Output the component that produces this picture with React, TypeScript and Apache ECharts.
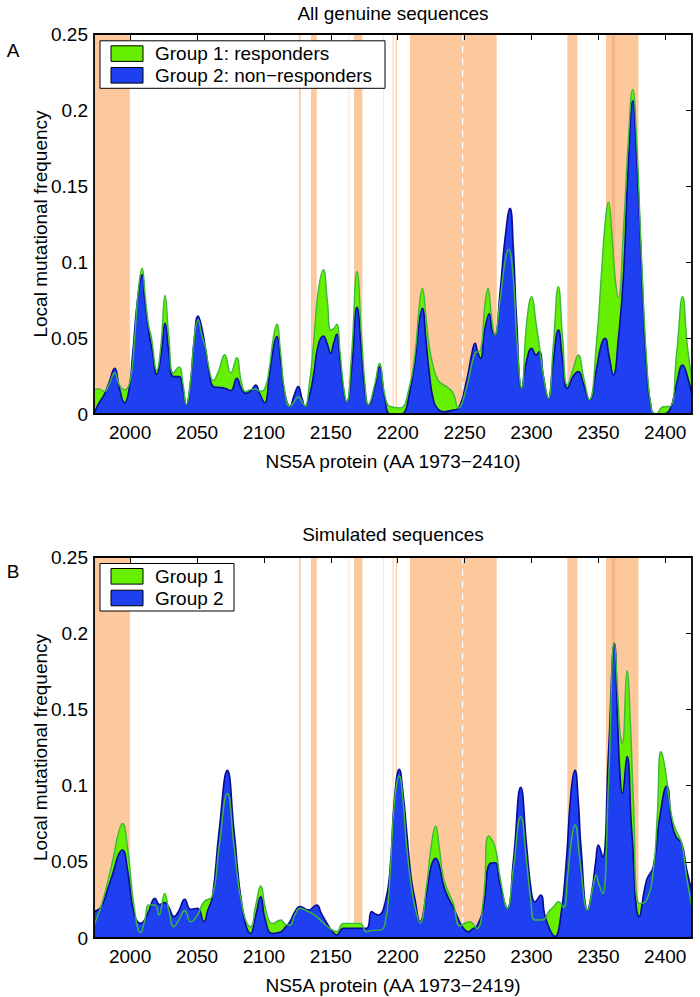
import React, { useEffect, useRef } from "react";
import * as echarts from "echarts";

const X_MIN = 1973;
const X_MAX = 2420;
const Y_MAX = 0.25;
const X_TICKS = [2000, 2050, 2100, 2150, 2200, 2250, 2300, 2350, 2400];

const TITLE_A = "All genuine sequences";
const TITLE_B = "Simulated sequences";
const XNAME_A = "NS5A protein (AA 1973\u22122410)";
const XNAME_B = "NS5A protein (AA 1973\u22122419)";
const YNAME = "Local mutational frequency";
const LEGEND_A = ["Group 1: responders", "Group 2: non\u2212responders"];
const LEGEND_B = ["Group 1", "Group 2"];

// shaded regions [start AA, end AA]
const BANDS: [number, number][] = [
  [1973, 1999.8], [2126.2, 2127.4], [2135.2, 2139.5], [2167.4, 2173.6],
  [2196.2, 2196.9], [2198.6, 2199.5], [2209.2, 2274.0], [2326.8, 2334.3], [2355.7, 2380.0],
];
const FAINT_BANDS: [number, number][] = [[2163.2, 2163.9], [2189.0, 2189.7]];
const DARK_BANDS: [number, number][] = [[2360.0, 2362.5]];
const DASH_AT = [2248.5];

// Panel A: all genuine sequences
const A_GROUP1: [number, number][] = [
  [1973,0.016],[1977,0.0165],[1980.5,0.0147],[1984,0.019],[1988.5,0.027],[1992,0.019],[1996,0.016],[2000,0.022],
  [2003,0.045],[2006,0.08],[2009,0.096],[2011,0.08],[2013.5,0.06],[2016,0.05],[2019.9,0.029],[2023,0.045],
  [2026.1,0.078],[2029,0.05],[2032.3,0.027],[2036.5,0.031],[2039.5,0.02],[2042,0.006],[2045,0.02],[2048,0.05],
  [2050.8,0.062],[2053.5,0.052],[2056.5,0.043],[2059,0.03],[2062.2,0.022],[2066,0.028],[2070.7,0.039],[2075.2,0.027],
  [2079.7,0.037],[2083,0.022],[2086.4,0.0147],[2090,0.016],[2093.9,0.0165],[2097,0.015],[2100.6,0.0165],[2104,0.03],
  [2107,0.05],[2109.6,0.059],[2112.5,0.04],[2115.5,0.015],[2119.5,0.005],[2122.5,0.008],[2125.7,0.0114],[2128.5,0.008],
  [2130.7,0.005],[2134,0.02],[2137,0.045],[2140.5,0.08],[2144.4,0.095],[2147.4,0.075],[2149.9,0.0553],[2152,0.056],
  [2154.4,0.059],[2157,0.04],[2159.5,0.018],[2161.9,0.008],[2165.6,0.04],[2169.6,0.0936],[2173.1,0.05],[2175.5,0.02],
  [2178.1,0.006],[2183,0.02],[2186.3,0.0333],[2190.5,0.012],[2194.3,0.005],[2201.7,0.004],[2208,0.015],[2213,0.04],
  [2216,0.07],[2218.4,0.0827],[2221,0.065],[2223.5,0.045],[2226.7,0.031],[2230.4,0.022],[2234.6,0.019],[2238,0.017],
  [2241.6,0.0136],[2245.3,0.004],[2251.6,0.018],[2257.8,0.04],[2262,0.042],[2265,0.07],[2267.5,0.0827],[2270,0.065],
  [2272.7,0.052],[2276.5,0.075],[2280.2,0.1],[2282.7,0.1083],[2286.4,0.09],[2289,0.05],[2292.7,0.017],[2296.4,0.06],
  [2300.2,0.0772],[2303.4,0.06],[2305.9,0.045],[2308.9,0.025],[2312.6,0.0103],[2316.3,0.045],[2320.1,0.0838],[2323.3,0.05],
  [2326.8,0.019],[2331.3,0.03],[2335,0.0388],[2338.8,0.025],[2343.3,0.0092],[2348.7,0.048],[2352.5,0.095],[2355,0.125],
  [2357.5,0.1393],[2360,0.12],[2362.5,0.09],[2365,0.0761],[2368.7,0.12],[2372.4,0.18],[2375.7,0.2136],[2378.6,0.18],
  [2382.4,0.1],[2386.1,0.035],[2389.9,0.002],[2393,0.0],[2398.6,0.0048],[2403.6,0.005],[2408.5,0.04],[2413,0.0772],
  [2416.5,0.045],[2420,0.0224],
];
const A_GROUP2: [number, number][] = [
  [1973,0.0],[1976,0.006],[1980.5,0.0125],[1984,0.02],[1988.5,0.03],[1992,0.017],[1995.9,0.0074],[1999,0.015],
  [2002,0.04],[2005.5,0.075],[2009.1,0.0915],[2011,0.075],[2014,0.054],[2016.5,0.042],[2019.9,0.026],[2023,0.038],
  [2026.1,0.0597],[2029,0.04],[2032.3,0.0246],[2036.5,0.0246],[2039.5,0.016],[2042,0.006],[2045,0.02],[2048,0.05],
  [2050.8,0.0645],[2053.5,0.057],[2056.5,0.042],[2059,0.028],[2062.2,0.018],[2066,0.0175],[2070.7,0.017],[2075.2,0.0154],
  [2079.7,0.0235],[2083,0.017],[2086.4,0.0136],[2090,0.015],[2093.9,0.019],[2097,0.013],[2100.6,0.0074],[2104,0.025],
  [2107,0.043],[2109.6,0.051],[2112.5,0.035],[2115.5,0.014],[2119.5,0.005],[2122.5,0.012],[2125.7,0.018],[2128.5,0.01],
  [2130.7,0.005],[2134,0.012],[2137,0.025],[2140.5,0.045],[2144.4,0.0513],[2147.4,0.046],[2149.9,0.0399],[2152,0.046],
  [2154.4,0.0524],[2157,0.035],[2159.5,0.016],[2161.9,0.008],[2165.6,0.03],[2169.6,0.0702],[2173.1,0.04],[2175.5,0.016],
  [2178.1,0.006],[2183,0.018],[2186.3,0.0311],[2190.5,0.01],[2194.3,0.0],[2201.7,0.0],[2205,0.001],[2208,0.01],
  [2213,0.035],[2216,0.06],[2218.4,0.0695],[2221,0.05],[2223.5,0.028],[2226.7,0.0092],[2230.4,0.003],[2234.6,0.0015],
  [2241.6,0.0026],[2245.3,0.0037],[2251.6,0.0224],[2255.5,0.04],[2257.8,0.0465],[2260,0.04],[2262,0.0366],[2265,0.055],
  [2268.5,0.066],[2270.5,0.055],[2272.7,0.052],[2276.5,0.08],[2280.2,0.115],[2284,0.1353],[2286.4,0.11],[2289,0.06],
  [2292.7,0.017],[2296.4,0.035],[2300.2,0.0432],[2303.4,0.0388],[2305.9,0.041],[2308.9,0.025],[2312.6,0.0103],[2316.3,0.035],
  [2320.1,0.0553],[2323.3,0.035],[2326.8,0.0169],[2331.3,0.025],[2335,0.0279],[2338.8,0.02],[2343.3,0.0092],[2348.7,0.03],
  [2352,0.045],[2355,0.0498],[2358,0.038],[2361.2,0.0257],[2365,0.05],[2368.7,0.09],[2372.4,0.165],[2375.7,0.2061],
  [2378.6,0.17],[2382.4,0.095],[2386.1,0.03],[2389.9,0.002],[2393,0.0],[2398.6,0.0],[2403.6,0.003],[2408.5,0.02],
  [2413,0.0322],[2416.5,0.025],[2420,0.0125],
];

// Panel B: simulated sequences
const B_GROUP1: [number, number][] = [
  [1973,0.0085],[1978,0.02],[1983,0.036],[1988,0.055],[1991,0.068],[1994.2,0.0752],[1998,0.06],[2003,0.0206],
  [2007.9,0.0035],[2011,0.012],[2014.1,0.0217],[2018.6,0.0217],[2021.5,0.015],[2025.8,0.0293],[2029,0.018],[2032.8,0.0074],
  [2036.5,0.012],[2040.8,0.018],[2045.3,0.0107],[2050.3,0.015],[2055.2,0.0238],[2061.5,0.0276],[2066.5,0.06],[2072.7,0.0949],
  [2077.7,0.06],[2083.9,0.02],[2090.1,0.0074],[2094,0.022],[2097.6,0.0341],[2101,0.02],[2104,0.011],[2106.3,0.0096],
  [2112.6,0.0118],[2116,0.009],[2119.5,0.0085],[2123,0.015],[2127,0.0195],[2133.2,0.0173],[2139.4,0.014],[2146.9,0.008],
  [2154.4,0.0042],[2159.4,0.0096],[2171.8,0.0096],[2176.8,0.004],[2181,0.005],[2185.5,0.005],[2190.5,0.009],[2194.3,0.042],
  [2197.5,0.088],[2201.2,0.1063],[2204,0.09],[2206.7,0.06],[2210,0.035],[2213,0.02],[2216.7,0.01],[2221.7,0.035],
  [2225,0.06],[2228.4,0.0735],[2231,0.06],[2234.1,0.04],[2238,0.03],[2241.6,0.0227],[2246.6,0.008],[2251,0.01],
  [2254,0.0107],[2259,0.0063],[2264,0.025],[2268,0.067],[2272.7,0.06],[2276.5,0.04],[2282,0.0195],[2286.4,0.045],
  [2292,0.0796],[2296.4,0.05],[2299.5,0.025],[2302.6,0.0118],[2308.9,0.012],[2312.6,0.017],[2317,0.021],[2320.1,0.0238],
  [2324,0.02],[2327,0.04],[2330,0.065],[2332.5,0.0741],[2336.3,0.05],[2342,0.0184],[2346.3,0.035],[2348.2,0.0413],
  [2350.5,0.035],[2353.2,0.029],[2357.5,0.1],[2362,0.1938],[2364.5,0.16],[2366.2,0.135],[2367.9,0.1277],[2371.4,0.1754],
  [2374,0.14],[2376.2,0.09],[2380.6,0.0227],[2386.1,0.025],[2391.1,0.0446],[2394,0.08],[2396.6,0.1222],[2398.5,0.118],
  [2401.1,0.1037],[2404.8,0.08],[2408,0.0709],[2412.3,0.0621],[2416,0.04],[2420,0.0195],
];
const B_GROUP2: [number, number][] = [
  [1973,0.0173],[1978,0.02],[1983,0.0315],[1988,0.045],[1991,0.054],[1994.2,0.0577],[1998,0.045],[2003,0.016],
  [2007.9,0.0096],[2011,0.012],[2014.1,0.018],[2018.6,0.026],[2022,0.022],[2025.8,0.0232],[2029,0.02],[2032.8,0.014],
  [2036.5,0.018],[2040.8,0.0254],[2045.3,0.0188],[2050.3,0.0195],[2055.2,0.0107],[2058,0.018],[2061.5,0.027],[2066.5,0.07],
  [2072.7,0.11],[2077.7,0.07],[2083.9,0.02],[2090.1,0.003],[2094,0.015],[2097.6,0.027],[2101,0.012],[2106.3,0.003],
  [2112.6,0.004],[2116,0.007],[2119.5,0.0107],[2123,0.017],[2127,0.0206],[2133.2,0.0184],[2139.4,0.0217],[2143,0.016],
  [2146.9,0.01],[2150.5,0.005],[2154.4,0.002],[2159.4,0.0063],[2171.8,0.0063],[2176.8,0.0063],[2180.5,0.0173],[2183,0.016],
  [2185.5,0.0151],[2190.5,0.0227],[2194.3,0.045],[2197.5,0.09],[2201.2,0.1107],[2204,0.095],[2206.7,0.07],[2210,0.04],
  [2213,0.025],[2216.7,0.0107],[2221.7,0.03],[2225,0.047],[2228.4,0.0523],[2231,0.048],[2234.1,0.035],[2238,0.026],
  [2241.6,0.02],[2246.6,0.01],[2249.5,0.006],[2252.8,0.004],[2256,0.006],[2259,0.0074],[2264,0.02],[2269,0.049],
  [2272.7,0.0494],[2276.5,0.035],[2282,0.0195],[2286.4,0.05],[2292,0.0989],[2296.4,0.06],[2300,0.03],[2302.6,0.0238],
  [2306.9,0.0282],[2310,0.015],[2314,0.005],[2317.6,0.001],[2322,0.015],[2326,0.05],[2329.5,0.095],[2332.5,0.11],
  [2335,0.09],[2337,0.06],[2342,0.0184],[2345,0.03],[2348,0.05],[2350,0.061],[2353.2,0.053],[2357.5,0.12],
  [2362,0.1933],[2364.5,0.14],[2366,0.11],[2367.9,0.0949],[2371.4,0.119],[2375,0.07],[2380.6,0.014],[2386.1,0.038],
  [2391.1,0.0468],[2396,0.08],[2401.1,0.0997],[2405,0.075],[2408,0.0665],[2412.3,0.0621],[2416,0.045],[2420,0.0304],
];

const FONT = "'Liberation Sans', Arial, Helvetica, sans-serif";
const GREEN_FILL = "#66f000";
const GREEN_LINE = "#3cb83c";
const BLUE_FILL = "#1f40f0";
const BLUE_LINE = "#0a0a96";
const BAND = "#fcc89c";
const BAND_FAINT = "#fde2cb";
const BAND_DARK = "#f6b682";

function bandSeries(gi: number, bands: [number, number][], color: string) {
  return {
    type: "custom",
    xAxisIndex: gi * 2,
    yAxisIndex: gi * 2,
    z: 1,
    silent: true,
    clip: true,
    encode: { x: [0, 1] },
    data: bands,
    renderItem: (_p: any, api: any) => {
      const a = api.coord([api.value(0), Y_MAX]);
      const b = api.coord([api.value(1), 0]);
      return {
        type: "rect",
        shape: { x: a[0], y: a[1], width: Math.max(b[0] - a[0], 0.8), height: b[1] - a[1] },
        style: { fill: color },
      };
    },
  };
}

function dashSeries(gi: number) {
  return {
    type: "custom",
    xAxisIndex: gi * 2,
    yAxisIndex: gi * 2,
    z: 1,
    silent: true,
    encode: { x: 0 },
    data: DASH_AT.map((v) => [v]),
    renderItem: (_p: any, api: any) => {
      const a = api.coord([api.value(0), Y_MAX]);
      const b = api.coord([api.value(0), 0]);
      return {
        type: "line",
        shape: { x1: a[0], y1: a[1], x2: b[0], y2: b[1] },
        style: { stroke: "#ffffff", lineWidth: 1.2, lineDash: [7, 5] },
      };
    },
  };
}

function dataSeries(gi: number, names: string[], g1: [number, number][], g2: [number, number][]) {
  return [
    {
      name: names[0],
      type: "line",
      xAxisIndex: gi * 2,
      yAxisIndex: gi * 2,
      z: 2,
      data: g1,
      smooth: 0.5,
      showSymbol: false,
      symbol: "none",
      lineStyle: { width: 0 },
      areaStyle: { color: GREEN_FILL, opacity: 1 },
    },
    {
      name: names[1],
      type: "line",
      xAxisIndex: gi * 2,
      yAxisIndex: gi * 2,
      z: 3,
      data: g2,
      smooth: 0.5,
      showSymbol: false,
      symbol: "none",
      lineStyle: { width: 1.6, color: BLUE_LINE },
      areaStyle: { color: BLUE_FILL, opacity: 1 },
    },
    {
      name: names[0] + " ",
      type: "line",
      xAxisIndex: gi * 2,
      yAxisIndex: gi * 2,
      z: 4,
      data: g1,
      smooth: 0.5,
      showSymbol: false,
      symbol: "none",
      lineStyle: { width: 1.4, color: GREEN_LINE },
    },
  ];
}

function xAxes(gi: number, name: string) {
  const line = { show: true, onZero: false, lineStyle: { color: "#000", width: 1.8 } };
  return [
    {
      type: "value",
      gridIndex: gi,
      position: "bottom",
      min: X_MIN,
      max: X_MAX,
      z: 10,
      axisLine: line,
      axisTick: { show: false },
      splitLine: { show: false },
      axisLabel: {
        customValues: X_TICKS,
        formatter: (v: number) => String(v),
        color: "#000",
        fontSize: 19,
        fontFamily: FONT,
        margin: 9,
      },
      name,
      nameLocation: "middle",
      nameGap: 38,
      nameMoveOverlap: false,
      nameTextStyle: { color: "#000", fontSize: 19, fontFamily: FONT },
    },
    {
      type: "value",
      gridIndex: gi,
      position: "top",
      min: X_MIN,
      max: X_MAX,
      z: 10,
      axisLine: line,
      axisTick: { show: true, inside: true, length: 6, customValues: X_TICKS, lineStyle: { color: "#000", width: 1 } },
      splitLine: { show: false },
      axisLabel: { show: false },
    },
  ];
}

function yAxes(gi: number) {
  const line = { show: true, onZero: false, lineStyle: { color: "#000", width: 1.8 } };
  return [
    {
      type: "value",
      gridIndex: gi,
      position: "left",
      min: 0,
      max: Y_MAX,
      interval: 0.05,
      z: 10,
      axisLine: line,
      axisTick: { show: false },
      splitLine: { show: false },
      axisLabel: { color: "#000", fontSize: 19, fontFamily: FONT, margin: 6 },
      name: YNAME,
      nameLocation: "middle",
      nameGap: 44,
      nameMoveOverlap: false,
      nameTextStyle: { color: "#000", fontSize: 19, fontFamily: FONT },
    },
    {
      type: "value",
      gridIndex: gi,
      position: "right",
      min: 0,
      max: Y_MAX,
      interval: 0.05,
      z: 10,
      axisLine: line,
      axisTick: { show: true, inside: true, length: 6, lineStyle: { color: "#000", width: 1 } },
      splitLine: { show: false },
      axisLabel: { show: false },
    },
  ];
}

function legendGraphic(top: number, width: number, labels: string[]) {
  const items: any[] = [
    {
      type: "rect",
      shape: { x: 100, y: top, width, height: 47.5 },
      style: { fill: "#fff", stroke: "#000", lineWidth: 1 },
      z: 100,
    },
  ];
  const colors = [GREEN_FILL, BLUE_FILL];
  labels.forEach((t, i) => {
    const yc = top + 12.8 + i * 21.7;
    items.push({
      type: "rect",
      shape: { x: 111, y: yc - 7.8, width: 32, height: 15.6 },
      style: { fill: colors[i], stroke: "#000", lineWidth: 1 },
      z: 101,
    });
    items.push({
      type: "text",
      x: 155,
      y: yc,
      style: { text: t, fill: "#000", font: `19px ${FONT}`, textAlign: "left", textVerticalAlign: "middle" },
      z: 101,
    });
  });
  return items;
}

export default function App() {
  const ref = useRef<HTMLDivElement>(null);
  useEffect(() => {
    if (!ref.current) return;
    const chart = echarts.init(ref.current, undefined, { renderer: "svg" });
    const textStyle = (text: string, x: number, y: number) => ({
      type: "text",
      x,
      y,
      z: 100,
      style: { text, fill: "#000", font: `19px ${FONT}`, textAlign: "center", textVerticalAlign: "middle" },
    });
    chart.setOption({
      animation: false,
      backgroundColor: "#fff",
      textStyle: { fontFamily: FONT },
      grid: [
        { left: 94, top: 34, width: 598, height: 380 },
        { left: 94, top: 557, width: 598, height: 381 },
      ],
      xAxis: [...xAxes(0, XNAME_A), ...xAxes(1, XNAME_B)],
      yAxis: [...yAxes(0), ...yAxes(1)],
      series: [
        bandSeries(0, BANDS, BAND),
        bandSeries(0, FAINT_BANDS, BAND_FAINT),
        bandSeries(0, DARK_BANDS, BAND_DARK),
        dashSeries(0),
        ...dataSeries(0, LEGEND_A, A_GROUP1, A_GROUP2),
        bandSeries(1, BANDS, BAND),
        bandSeries(1, FAINT_BANDS, BAND_FAINT),
        bandSeries(1, DARK_BANDS, BAND_DARK),
        dashSeries(1),
        ...dataSeries(1, LEGEND_B, B_GROUP1, B_GROUP2),
      ],
      graphic: [
        textStyle(TITLE_A, 393, 13),
        textStyle(TITLE_B, 393, 534),
        textStyle("A", 13, 50),
        textStyle("B", 13, 571),
        ...legendGraphic(40.8, 285, LEGEND_A),
        ...legendGraphic(563.5, 134, LEGEND_B),
      ],
    });
    return () => chart.dispose();
  }, []);
  return (
    <div
      ref={ref}
      style={{ position: "fixed", left: 0, top: 0, width: 700, height: 997, background: "#fff" }}
    />
  );
}
